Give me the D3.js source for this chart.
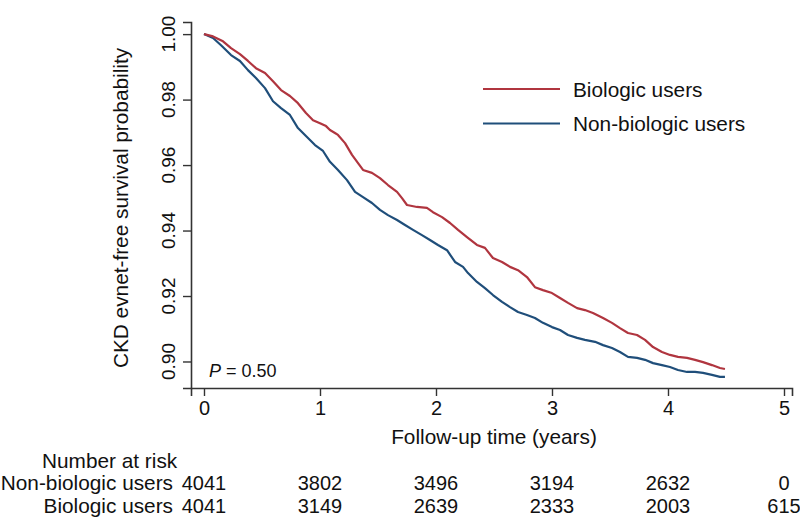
<!DOCTYPE html>
<html><head><meta charset="utf-8">
<script src="https://cdn.jsdelivr.net/npm/d3@7"></script>
<style>body{margin:0;background:#fff}svg{display:block;font-family:"Liberation Sans",Arial,sans-serif}</style>
</head><body><svg id="c" width="800" height="518"></svg>
<script>
// ---- data ----
const seriesNames = ["Biologic users", "Non-biologic users"];
const bioTime = [0,0.078,0.164,0.233,0.310,0.379,0.448,0.526,0.595,0.664,0.741,0.810,0.879,0.940,1.000,1.052,1.086,1.129,1.155,1.216,1.276,1.328,1.371,1.448,1.517,1.586,1.664,1.707,1.750,1.836,1.922,1.974,2.052,2.121,2.190,2.267,2.353,2.422,2.491,2.569,2.638,2.707,2.784,2.853,2.922,3.000,3.069,3.138,3.216,3.284,3.353,3.440,3.517,3.586,3.655,3.733,3.802,3.871,3.948,4.017,4.086,4.164,4.233,4.302,4.379,4.448,4.491];
const bioSurv = [1.0000,0.9993,0.9978,0.9957,0.9939,0.9918,0.9896,0.9881,0.9856,0.9829,0.9811,0.9789,0.9759,0.9737,0.9728,0.9719,0.9707,0.9698,0.9692,0.9667,0.9631,0.9606,0.9585,0.9576,0.9560,0.9539,0.9518,0.9499,0.9478,0.9472,0.9469,0.9456,0.9441,0.9423,0.9402,0.9380,0.9356,0.9347,0.9316,0.9304,0.9289,0.9279,0.9258,0.9227,0.9218,0.9209,0.9194,0.9179,0.9163,0.9157,0.9148,0.9133,0.9118,0.9102,0.9087,0.9081,0.9066,0.9044,0.9029,0.9020,0.9014,0.9011,0.9005,0.8998,0.8989,0.8980,0.8977];
const nonTime = [0,0.078,0.147,0.233,0.310,0.379,0.448,0.526,0.595,0.664,0.741,0.810,0.879,0.957,1.026,1.086,1.155,1.233,1.302,1.371,1.448,1.517,1.586,1.664,1.733,1.802,1.879,1.948,2.017,2.095,2.164,2.233,2.276,2.353,2.422,2.491,2.569,2.638,2.707,2.784,2.853,2.922,3.000,3.069,3.138,3.216,3.284,3.371,3.440,3.517,3.586,3.655,3.733,3.802,3.871,3.948,4.017,4.086,4.164,4.233,4.302,4.379,4.448,4.491];
const nonSurv = [1.0000,0.9988,0.9966,0.9936,0.9918,0.9890,0.9866,0.9835,0.9795,0.9774,0.9753,0.9713,0.9689,0.9661,0.9643,0.9610,0.9585,0.9554,0.9518,0.9502,0.9484,0.9463,0.9447,0.9432,0.9417,0.9402,0.9386,0.9371,0.9356,0.9340,0.9304,0.9289,0.9270,0.9243,0.9224,0.9203,0.9182,0.9166,0.9151,0.9142,0.9133,0.9118,0.9105,0.9096,0.9081,0.9072,0.9066,0.9060,0.9050,0.9041,0.9029,0.9014,0.9011,0.9005,0.8995,0.8989,0.8983,0.8974,0.8968,0.8968,0.8965,0.8959,0.8953,0.8953];
const xTicks = [0,1,2,3,4,5];
const yTicks = [0.90,0.92,0.94,0.96,0.98,1.00];
const riskTimes = [0,1,2,3,4,5];
const riskNon = [4041,3802,3496,3194,2632,0];
const riskBio = [4041,3149,2639,2333,2003,615];
const pLabel = "0.50";

// ---- drawing ----
const svg = d3.select("#c");
const colBio = "#b0353f", colNon = "#1f4e7a";
const axisCol = "#333";
const fs = 20.8;
const x = d3.scaleLinear().domain([-0.112, 5.069]).range([191, 792]);
const y = d3.scaleLinear().domain([0.8919, 1.0037]).range([388, 22]);

// axes
const gx = svg.append("g").attr("transform", "translate(0,388)")
  .call(d3.axisBottom(x).tickValues(xTicks).tickSizeOuter(0).tickSize(8).tickPadding(5).tickFormat(d3.format("d")));
gx.selectAll("text").attr("font-size", 20).attr("fill", "#111").attr("font-family", null);
const gy = svg.append("g").attr("transform", "translate(191,0)")
  .call(d3.axisLeft(y).tickValues(yTicks).tickSizeOuter(0).tickSize(8).tickFormat(""));
[gx, gy].forEach(g => {
  g.select(".domain").attr("stroke", axisCol).attr("stroke-width", 1.6);
  g.selectAll(".tick line").attr("stroke", axisCol).attr("stroke-width", 1.4);
});
svg.append("g").selectAll("text").data(yTicks).join("text")
  .attr("x", 175).attr("y", d => y(d))
  .attr("transform", d => `rotate(-90,175,${y(d)})`)
  .attr("text-anchor", "middle").attr("font-size", 19).attr("fill", "#111")
  .text(d3.format(".2f"));

// axis titles
svg.append("text").attr("x", 128).attr("y", 208)
  .attr("transform", "rotate(-90,128,208)").attr("text-anchor", "middle")
  .attr("font-size", fs).attr("fill", "#111").text("CKD evnet-free survival probability");
svg.append("text").attr("x", x(2.5)).attr("y", 444).attr("text-anchor", "middle")
  .attr("font-size", fs).attr("fill", "#111").text("Follow-up time (years)");

// curves
const line = d3.line().x(d => x(d[0])).y(d => y(d[1])).curve(d3.curveLinear);
svg.append("path").datum(nonTime.map((t, i) => [t, nonSurv[i]]))
  .attr("d", line).attr("fill", "none").attr("stroke", colNon).attr("stroke-width", 2.2).attr("stroke-linejoin", "round");
svg.append("path").datum(bioTime.map((t, i) => [t, bioSurv[i]]))
  .attr("d", line).attr("fill", "none").attr("stroke", colBio).attr("stroke-width", 2.2).attr("stroke-linejoin", "round");

// legend
const legend = svg.append("g");
[[seriesNames[0], colBio, 89], [seriesNames[1], colNon, 123.5]].forEach(([n, c, ly]) => {
  legend.append("line").attr("x1", 483).attr("x2", 560).attr("y1", ly).attr("y2", ly)
    .attr("stroke", c).attr("stroke-width", 2.2);
  legend.append("text").attr("x", 573).attr("y", ly + 7.5).attr("font-size", fs).attr("fill", "#111").text(n);
});

// P value
const pt = svg.append("text").attr("x", 209).attr("y", 377).attr("font-size", 18).attr("fill", "#111");
pt.append("tspan").attr("font-style", "italic").text("P");
pt.append("tspan").text(" = " + pLabel);

// risk table
svg.append("text").attr("x", 42).attr("y", 468).attr("font-size", fs).attr("fill", "#111").text("Number at risk");
[[seriesNames[1], riskNon, 490], [seriesNames[0], riskBio, 513]].forEach(([n, arr, ry]) => {
  svg.append("text").attr("x", 173).attr("y", ry).attr("text-anchor", "end")
    .attr("font-size", fs).attr("fill", "#111").text(n);
  svg.append("g").selectAll("text").data(arr).join("text")
    .attr("x", (d, i) => x(riskTimes[i])).attr("y", ry).attr("text-anchor", "middle")
    .attr("font-size", 20).attr("fill", "#111").text(d => d);
});
</script></body></html>
